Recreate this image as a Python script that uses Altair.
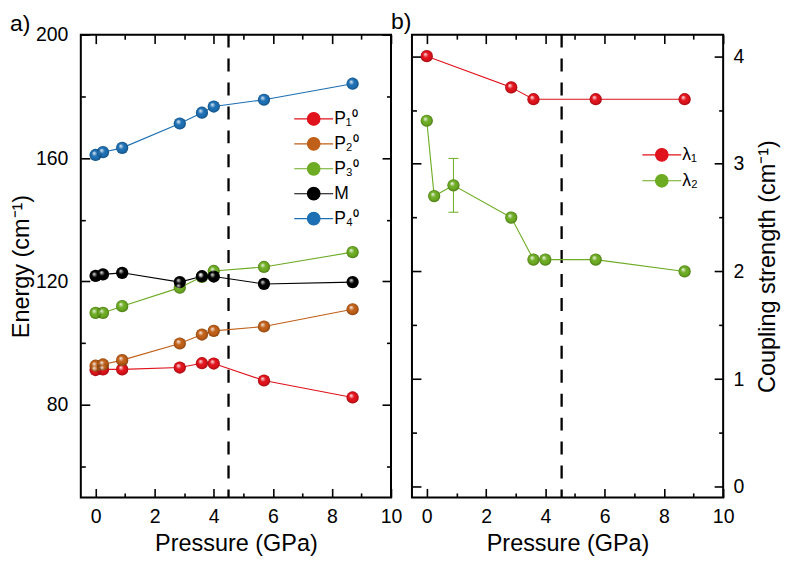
import altair as alt
import pandas as pd

# ---------------- data ----------------
pressure = [0.0, 0.25, 0.9, 2.85, 3.6, 4.0, 5.7, 8.7]
p1_energy = [91.3, 91.5, 91.5, 92.1, 93.5, 93.4, 87.9, 82.4]
p2_energy = [92.7, 93.1, 94.5, 99.9, 102.8, 104.0, 105.4, 111.0]
p3_energy = [109.8, 109.8, 112.0, 118.0, 121.5, 123.4, 124.7, 129.5]
m_energy = [121.8, 122.3, 122.8, 119.8, 121.7, 121.6, 119.2, 119.8]
p4_energy = [161.0, 161.9, 163.3, 171.2, 174.7, 176.7, 178.9, 184.1]
series_names = ["P\u2081\u2070", "P\u2082\u2070", "P\u2083\u2070", "M", "P\u2084\u2070"]
series_colors = ["#e0121b", "#bf5f18", "#6cab22", "#000000", "#1d6fb3"]

lam1_pressure = [0.0, 2.85, 3.6, 5.7, 8.7]
lam1_values = [4.0, 3.71, 3.6, 3.6, 3.6]
lam2_pressure = [0.0, 0.25, 0.9, 2.85, 3.6, 4.0, 5.7, 8.7]
lam2_values = [3.40, 2.70, 2.80, 2.50, 2.11, 2.11, 2.11, 2.00]
lam_names = ["\u03bb\u2081", "\u03bb\u2082"]
lam_colors = ["#e0121b", "#6cab22"]
err_pressure = [0.9]
err_low = [2.55]
err_high = [3.05]

transition_a = [4.5]
transition_b = [4.55]

x_major = [0, 2, 4, 6, 8, 10]
x_all = list(range(0, 11))
energy_major = [80, 120, 160, 200]
energy_all = [60, 80, 100, 120, 140, 160, 180, 200]
coupling_major = [0, 1, 2, 3, 4]
coupling_all = [0, 0.5, 1, 1.5, 2, 2.5, 3, 3.5, 4]

# ---------------- tables ----------------
rows = []
for name, vals in zip(series_names, [p1_energy, p2_energy, p3_energy, m_energy, p4_energy]):
    for p, v in zip(pressure, vals):
        rows.append({"series": name, "p": p, "v": v})
dfA = pd.DataFrame(rows)

rows = []
for p, v in zip(lam1_pressure, lam1_values):
    rows.append({"series": lam_names[0], "p": p, "v": v})
for p, v in zip(lam2_pressure, lam2_values):
    rows.append({"series": lam_names[1], "p": p, "v": v})
dfB = pd.DataFrame(rows)
dfErr = pd.DataFrame({"p": err_pressure, "lo": err_low, "hi": err_high})

# ---------------- style ----------------
FONT = "Liberation Sans"
W_A, W_B, H = 311, 312, 464
LEG_PATH = ("M-2,0L-0.65,0M0.65,0L2,0M-0.65,0A0.65,0.65,0,1,0,0.65,0"
            "A0.65,0.65,0,1,0,-0.65,0Z")
LABEL_FS = 19.5
TITLE_FS = 23.5
GREEN = "#6cab22"

sphere = alt.RadialGradient(
    gradient="radial",
    stops=[
        alt.GradientStop(color="rgba(255,255,255,0.95)", offset=0),
        alt.GradientStop(color="rgba(255,255,255,0.0)", offset=0.45),
        alt.GradientStop(color="rgba(0,0,0,0.0)", offset=0.7),
        alt.GradientStop(color="rgba(0,0,0,0.28)", offset=1),
    ],
    x1=0.36, y1=0.32, r1=0, x2=0.5, y2=0.5, r2=0.5,
)


def tick_axis(orient, offset, values, test):
    return alt.Axis(
        orient=orient, offset=offset, values=values, labels=False, domain=False,
        grid=False, title=None, tickColor="black", tickWidth=1.6,
        tickSize={"condition": {"test": test, "value": 9}, "value": 4.5},
    )


def panel(df, names, colors, ydomain, ymajor, yall, ytest, ylabel, yorient,
          width, legx, legy, rowpad, trans, ytitle_pad, ylab_pad):
    xs = alt.Scale(domain=[-0.5, 10], nice=False, zero=False)
    ys = alt.Scale(domain=ydomain, nice=False, zero=False)
    cscale = alt.Scale(domain=names, range=colors)
    legend = alt.Legend(
        orient="none", legendX=legx, legendY=legy, title=None,
        symbolType=LEG_PATH, symbolSize=380, symbolStrokeWidth=1.1,
        labelFontSize=17.5, labelFont=FONT, labelColor="black", labelOffset=10,
        rowPadding=rowpad, padding=0, symbolOpacity=1,
    )
    other = "left" if yorient == "right" else "right"
    x_lab = alt.Axis(orient="bottom", values=x_major, ticks=False, tickSize=0,
                     domain=False, grid=False, labelPadding=10,
                     labelFontSize=LABEL_FS, title="Pressure (GPa)",
                     titleFontSize=TITLE_FS, titlePadding=6, labelFlush=False)
    y_lab_kwargs = dict(orient=yorient, values=ymajor, ticks=False, tickSize=0,
                        domain=False, grid=False, labelPadding=ylab_pad,
                        labelFontSize=LABEL_FS, title=ylabel,
                        titleFontSize=TITLE_FS, titlePadding=ytitle_pad,
                        labelFlush=False)
    if yorient == "right":
        y_lab_kwargs.update(titleAngle=270, titleBaseline="top")
    y_lab = alt.Axis(**y_lab_kwargs)

    lines = alt.Chart(df).mark_line(strokeWidth=1.1).encode(
        x=alt.X("p:Q", scale=xs, axis=x_lab),
        y=alt.Y("v:Q", scale=ys, axis=y_lab),
        color=alt.Color("series:N", scale=cscale, legend=legend),
    )
    pts = alt.Chart(df).mark_circle(size=150, opacity=1).encode(
        x=alt.X("p:Q", scale=xs,
                axis=tick_axis("top", -H, x_all, "datum.value % 2 === 0")),
        y=alt.Y("v:Q", scale=ys,
                axis=tick_axis(other, -width, yall, ytest)),
        color=alt.Color("series:N", scale=cscale, legend=legend),
    )
    shine = alt.Chart(df).mark_circle(size=150, opacity=1, fill=sphere).encode(
        x=alt.X("p:Q", scale=xs,
                axis=tick_axis("bottom", -H, x_all, "datum.value % 2 === 0")),
        y=alt.Y("v:Q", scale=ys,
                axis=tick_axis(yorient, -width, yall, ytest)),
    )
    rule = alt.Chart(pd.DataFrame({"p": trans})).mark_rule(
        color="black", strokeWidth=2.3, strokeDash=[13, 11]
    ).encode(x=alt.X("p:Q", scale=xs, axis=None))
    return rule, lines, pts, shine, xs, ys


ruleA, linesA, ptsA, shineA, xsA, ysA = panel(
    dfA, series_names, series_colors, [50, 200], energy_major, energy_all,
    "datum.value % 40 === 0", "Energy (cm\u207b\u00b9)", "left", W_A,
    223, 74, 5, transition_a, 2, 13)
left = alt.layer(ruleA, linesA, ptsA, shineA).resolve_axis(
    x="independent", y="independent"
).properties(
    width=W_A, height=H,
    title=alt.TitleParams("a)", anchor="start", frame="group", dx=-71,
                          fontSize=23, fontWeight="normal", font=FONT,
                          color="black", offset=-11),
)

ruleB, linesB, ptsB, shineB, xsB, ysB = panel(
    dfB, lam_names, lam_colors, [-0.1, 4.2], coupling_major, coupling_all,
    "datum.value % 1 === 0", "Coupling strength (cm\u207b\u00b9)", "right", W_B,
    240, 110, 6, transition_b, 12, 10)
errB = alt.Chart(dfErr).mark_errorbar(
    color=GREEN, opacity=1,
    ticks={"size": 10, "color": GREEN, "opacity": 1, "strokeWidth": 1},
    rule={"color": GREEN, "opacity": 1, "strokeWidth": 1},
).encode(
    x=alt.X("p:Q", scale=xsB, axis=None, title=None),
    y=alt.Y("lo:Q", scale=ysB, axis=None, title=None),
    y2="hi:Q",
)
right = alt.layer(ruleB, linesB, errB, ptsB, shineB).resolve_axis(
    x="independent", y="independent"
).properties(
    width=W_B, height=H,
    title=alt.TitleParams("b)", anchor="start", frame="group", dx=-21,
                          fontSize=23, fontWeight="normal", font=FONT,
                          color="black", offset=0),
)

chart = alt.hconcat(
    left, right, spacing=21, bounds="flush",
    padding={"top": 0, "left": 0, "right": 0, "bottom": 0},
).resolve_scale(
    color="independent", x="independent", y="independent"
).configure(font=FONT, background="white").configure_view(
    stroke="black", strokeWidth=2
).configure_axis(labelColor="black", titleColor="black",
                 titleFontWeight="normal", labelFont=FONT, titleFont=FONT)

chart.save("out.html", embed_options={"renderer": "svg", "actions": False})
